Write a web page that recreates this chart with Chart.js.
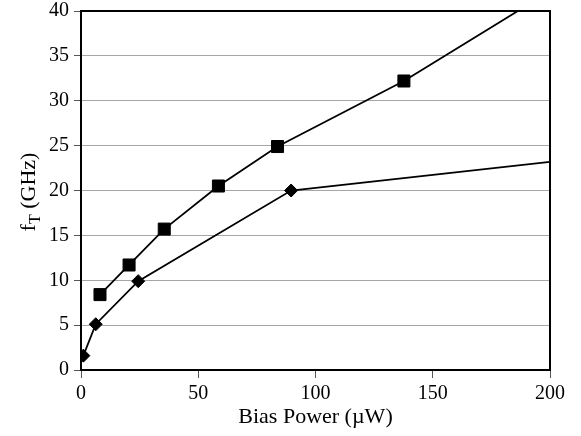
<!DOCTYPE html>
<html>
<head>
<meta charset="utf-8">
<script src="https://cdn.jsdelivr.net/npm/chart.js@4/dist/chart.umd.min.js"></script>
<style>
  html, body { margin: 0; padding: 0; background: #fff; }
  #wrap { width: 581px; height: 436px; }
</style>
</head>
<body>
<div id="wrap"><canvas id="c" width="581" height="436"></canvas></div>
<script>
// Bias power (µW) and transit frequency fT (GHz) for the two device series
const squarePower = [8.1, 20.5, 35.5, 58.6, 83.8, 137.7, 200];
const squareFt    = [8.4, 11.7, 15.7, 20.5, 24.9, 32.2, 42.2];
const diamondPower = [1.0, 6.3, 24.4, 89.6, 200];
const diamondFt    = [1.6, 5.1, 9.9, 20.0, 23.2];

const xTicks = [0, 50, 100, 150, 200];
const yTicks = [0, 5, 10, 15, 20, 25, 30, 35, 40];

const serif = "'Liberation Serif', 'Times New Roman', serif";

function toPoints(xs, ys) {
  return xs.map((x, i) => ({ x: x, y: ys[i] }));
}

// last point of each series only sets the direction of the trailing segment
function hideLast(size) {
  return ctx => (ctx.dataIndex === ctx.dataset.data.length - 1 ? 0 : size);
}

// rotated y-axis title with a subscript T, plus the top/right frame
const extras = {
  id: 'extras',
  afterDraw(chart) {
    const ctx = chart.ctx;
    const a = chart.chartArea;
    ctx.save();
    ctx.strokeStyle = '#000';
    ctx.lineWidth = 2;
    ctx.beginPath();
    ctx.moveTo(a.left, a.top);
    ctx.lineTo(a.right, a.top);
    ctx.lineTo(a.right, a.bottom);
    ctx.stroke();
    ctx.restore();

    ctx.save();
    ctx.translate(35, 192);
    ctx.rotate(-Math.PI / 2);
    ctx.fillStyle = '#000';
    ctx.textBaseline = 'alphabetic';
    const big = '22px ' + serif;
    const small = '16px ' + serif;
    ctx.font = big;
    const wF = ctx.measureText('f').width;
    const rest = ' (GHz)';
    const wRest = ctx.measureText(rest).width;
    ctx.font = small;
    const wT = ctx.measureText('T').width;
    let x = -(wF + wT + wRest) / 2;
    ctx.font = big;
    ctx.fillText('f', x, 0);
    x += wF;
    ctx.font = small;
    ctx.fillText('T', x, 5);
    x += wT;
    ctx.font = big;
    ctx.fillText(rest, x, 0);
    ctx.restore();
  }
};

new Chart(document.getElementById('c'), {
  type: 'scatter',
  data: {
    datasets: [
      {
        data: toPoints(squarePower, squareFt),
        showLine: true,
        borderColor: '#000',
        borderWidth: 1.8,
        backgroundColor: '#000',
        pointStyle: 'rect',
        pointRadius: hideLast(8.5),
        pointBorderWidth: 1,
        pointBorderColor: '#000',
        pointBackgroundColor: '#000'
      },
      {
        data: toPoints(diamondPower, diamondFt),
        showLine: true,
        borderColor: '#000',
        borderWidth: 1.8,
        backgroundColor: '#000',
        pointStyle: 'rectRot',
        pointRadius: hideLast(6.5),
        pointBorderWidth: 1,
        pointBorderColor: '#000',
        pointBackgroundColor: '#000'
      }
    ]
  },
  options: {
    responsive: false,
    animation: false,
    events: [],
    layout: { padding: { top: 11, right: 31, left: 0, bottom: 0 } },
    plugins: {
      legend: { display: false },
      tooltip: { enabled: false }
    },
    scales: {
      x: {
        type: 'linear',
        min: 0,
        max: 200,
        afterBuildTicks: s => { s.ticks = xTicks.map(v => ({ value: v })); },
        afterFit: s => { s.height = 66; s.paddingLeft = 0; s.paddingRight = 0; },
        ticks: {
          color: '#000',
          font: { family: serif, size: 20, lineHeight: 1 },
          padding: 6,
          maxRotation: 0
        },
        grid: {
          drawOnChartArea: false,
          tickColor: '#555',
          tickLength: 8,
          tickWidth: 1
        },
        border: { color: '#000', width: 2 },
        title: {
          display: true,
          text: 'Bias Power (\u00b5W)',
          color: '#000',
          font: { family: serif, size: 22, lineHeight: 1.2 },
          padding: { top: 0, bottom: 6 }
        }
      },
      y: {
        type: 'linear',
        min: 0,
        max: 40,
        afterBuildTicks: s => { s.ticks = yTicks.map(v => ({ value: v })); },
        afterFit: s => { s.width = 81; s.paddingTop = 0; s.paddingBottom = 0; },
        ticks: {
          color: '#000',
          font: { family: serif, size: 20, lineHeight: 1 },
          padding: 5
        },
        grid: {
          color: '#a6a6a6',
          lineWidth: 1,
          tickColor: '#555',
          tickLength: 7
        },
        border: { color: '#000', width: 2 }
      }
    }
  },
  plugins: [extras]
});
</script>
</body>
</html>
